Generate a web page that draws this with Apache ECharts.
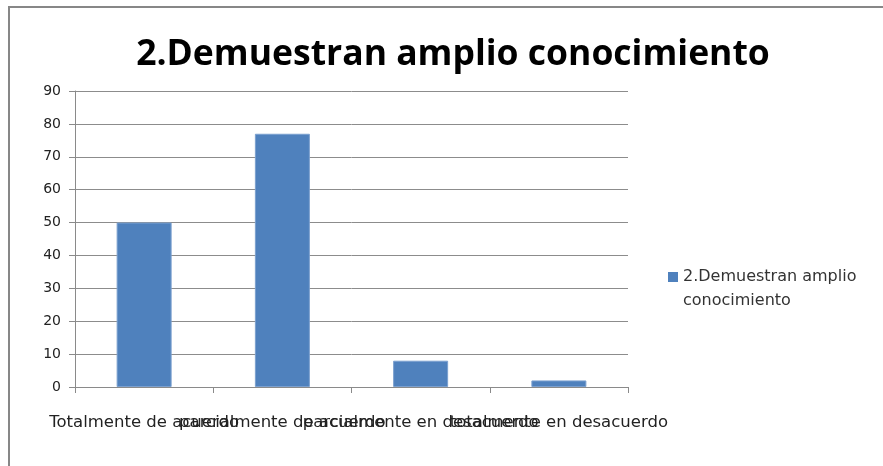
<!DOCTYPE html>
<html>
<head>
<meta charset="utf-8">
<script src="https://cdn.jsdelivr.net/npm/echarts@6/dist/echarts.min.js"></script>
<style>
  html, body { margin: 0; padding: 0; background: #fff; }
  #chart { width: 883px; height: 466px; }
</style>
</head>
<body>
<div id="chart"></div>
<script>
const title = '2.Demuestran amplio conocimiento'
const categories = [
  'Totalmente de acuerdo',
  'parcialmente de acuerdo',
  'parcialmente en desacuerdo',
  'totalmente en desacuerdo'
]
const values = [50, 77, 8, 2]
const yTicks = [0, 10, 20, 30, 40, 50, 60, 70, 80, 90]

const chart = echarts.init(document.getElementById('chart'))

const option = {
  animation: false,
  backgroundColor: '#fff',
  title: {
    text: title,
    left: 448,
    top: 32,
    textAlign: 'center',
    textStyle: {
      fontFamily: 'Open Sans',
      fontWeight: 'bold',
      fontSize: 35.5,
      color: '#000'
    }
  },
  grid: {
    left: 75,
    right: 255,
    top: 91,
    bottom: 79
  },
  legend: {
    left: 663,
    top: 236,
    icon: 'rect',
    itemWidth: 10,
    itemHeight: 10,
    itemGap: 0,
    // blank first line keeps the marker level with the first text line
    formatter: () => '\n2.Demuestran amplio\nconocimiento',
    itemStyle: { borderWidth: 0 },
    textStyle: {
      fontFamily: 'DejaVu Sans',
      fontSize: 16,
      lineHeight: 24,
      color: '#333'
    }
  },
  xAxis: {
    type: 'category',
    data: categories,
    axisLine: { lineStyle: { color: '#8a8a8a', width: 1 } },
    axisTick: { show: true, length: 6, lineStyle: { color: '#8a8a8a' } },
    axisLabel: {
      interval: 0,
      margin: 27,
      fontFamily: 'DejaVu Sans',
      fontSize: 16.5,
      color: '#222'
    }
  },
  yAxis: {
    type: 'value',
    min: yTicks[0],
    max: yTicks[yTicks.length - 1],
    interval: 10,
    axisLine: { show: true, lineStyle: { color: '#8a8a8a', width: 1 } },
    axisTick: { show: true, length: 6, lineStyle: { color: '#8a8a8a' } },
    splitLine: { lineStyle: { color: '#8c8c8c', width: 1 } },
    axisLabel: {
      margin: 14,
      fontFamily: 'DejaVu Sans',
      fontSize: 14,
      color: '#222'
    }
  },
  series: [
    {
      name: title,
      type: 'bar',
      data: values,
      barWidth: 55,
      itemStyle: {
        color: '#4f81bd',
        borderColor: '#7ba0cf',
        borderWidth: 1
      }
    }
  ],
  graphic: [
    {
      type: 'rect',
      shape: { x: 9, y: 7, width: 900, height: 480 },
      style: { fill: 'none', stroke: '#878787', lineWidth: 2 },
      silent: true
    }
  ]
}

chart.setOption(option)
</script>
</body>
</html>
